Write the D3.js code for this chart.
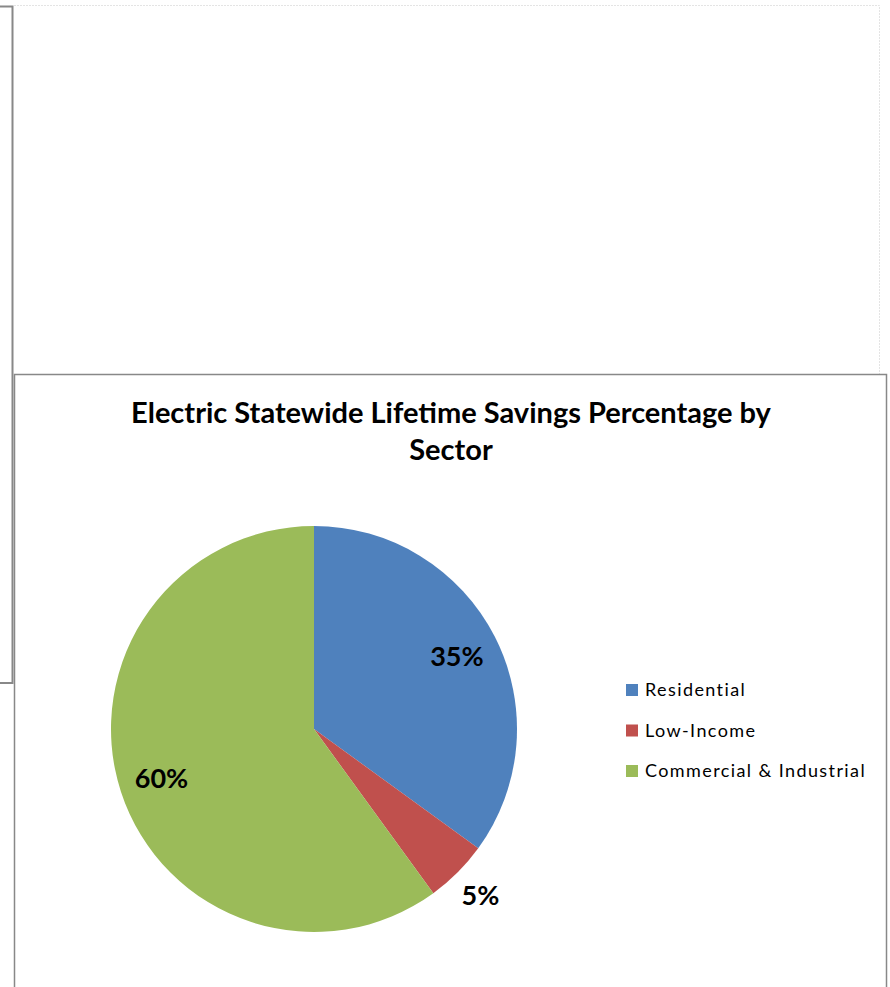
<!DOCTYPE html>
<html>
<head>
<meta charset="utf-8">
<script src="https://cdn.jsdelivr.net/npm/d3@7"></script>
<style>
  body { margin: 0; background: #fff; }
  svg { display: block; }
</style>
</head>
<body>
<div id="pieDiv"></div>
<script>
// data
const sectors = ["Residential", "Low-Income", "Commercial & Industrial"];
const savingsPct = [35, 5, 60];
const sectorColors = ["#4F81BD", "#C0504D", "#9BBB59"];
const titleLines = ["Electric Statewide Lifetime Savings Percentage by", "Sector"];

const W = 890, H = 987;
const font = "Lato, 'Open Sans', sans-serif";

const svg = d3.select("#pieDiv").append("svg")
	.attr("width", W)
	.attr("height", H);

// background frames from the surrounding document
svg.append("path")
	.attr("d", "M0,6.5 H12.5 V683 H0")
	.attr("fill", "none")
	.attr("stroke", "#888")
	.attr("stroke-width", 2);
svg.append("path")
	.attr("d", "M14,5.5 H879.5 V374")
	.attr("fill", "none")
	.attr("stroke", "#e4e4e4")
	.attr("stroke-width", 1)
	.attr("stroke-dasharray", "2,1");

// chart box
const box = {x: 14.5, y: 374.5, w: 872, h: 640};
svg.append("rect")
	.attr("x", box.x).attr("y", box.y)
	.attr("width", box.w).attr("height", box.h)
	.attr("fill", "#fff")
	.attr("stroke", "#888")
	.attr("stroke-width", 1.5);

// title
const title = svg.append("text")
	.attr("text-anchor", "middle")
	.attr("font-family", font)
	.attr("font-weight", "bold")
	.attr("font-size", 29)
	.attr("fill", "#000");
titleLines.forEach((t, i) => {
	title.append("tspan")
		.attr("x", 451)
		.attr("y", 423 + i * 37)
		.text(t);
});

// pie
const cx = 314, cy = 729, r = 203;
const pieData = sectors.map((s, i) => ({sector: s, value: savingsPct[i]}));
const color = d3.scaleOrdinal().domain(sectors).range(sectorColors);
const pie = d3.pie().value(d => d.value).sort(null);
const arc = d3.arc().innerRadius(0).outerRadius(r);
const arcs = pie(pieData);

const pieG = svg.append("g").attr("transform", `translate(${cx},${cy})`);
pieG.selectAll("path")
	.data(arcs)
	.enter()
	.append("path")
	.attr("d", arc)
	.attr("fill", d => color(d.data.sector));

// data labels (inside for big slices, outside for the small one)
const labelR = [0.79, 1.16, 0.79];
pieG.selectAll("text.lbl")
	.data(arcs)
	.enter()
	.append("text")
	.attr("class", "lbl")
	.attr("transform", (d, i) => {
		const a = d3.arc().innerRadius(r * labelR[i]).outerRadius(r * labelR[i]);
		return `translate(${a.centroid(d)})`;
	})
	.attr("text-anchor", "middle")
	.attr("dy", "0.35em")
	.attr("font-family", font)
	.attr("font-weight", "bold")
	.attr("font-size", 27)
	.text(d => d.data.value + "%");

// legend
const legY = d3.scalePoint().domain(sectors).range([690, 771]);
const items = svg.append("g").selectAll("g")
	.data(sectors)
	.enter()
	.append("g")
	.attr("transform", d => `translate(626,${legY(d)})`);
items.append("rect")
	.attr("x", 0).attr("y", -6)
	.attr("width", 12).attr("height", 12)
	.attr("fill", d => color(d));
items.append("text")
	.attr("x", 19)
	.attr("dy", "0.35em")
	.attr("font-family", font)
	.attr("font-size", 18)
	.attr("letter-spacing", 1.4)
	.attr("fill", "#000")
	.text(d => d);
</script>
</body>
</html>
